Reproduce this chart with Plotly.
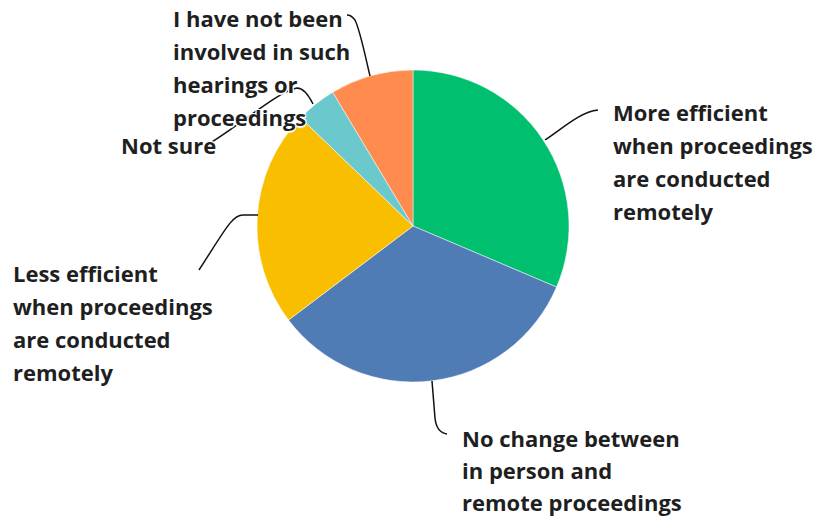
import plotly.graph_objects as go

W, H = 815, 517

labels = [
    "More efficient when proceedings are conducted remotely",
    "No change between in person and remote proceedings",
    "Less efficient when proceedings are conducted remotely",
    "Not sure",
    "I have not been involved in such hearings or proceedings",
]
values = [31.4, 33.3, 22.5, 4.2, 8.6]
colors = ["#00BF6F", "#507CB6", "#F9BE00", "#6BC8CD", "#FF8B4F"]

# wrapped label lines as drawn outside the pie
label_lines = [
    ["More efficient", "when proceedings", "are conducted", "remotely"],
    ["No change between", "in person and", "remote proceedings"],
    ["Less efficient", "when proceedings", "are conducted", "remotely"],
    ["Not sure"],
    ["I have not been", "involved in such", "hearings or", "proceedings"],
]


def px(x, y):
    return x / W, 1 - y / H


def path(cmds):
    out = []
    for c in cmds:
        if isinstance(c, str):
            out.append(c)
        else:
            a, b = px(*c)
            out.append(f"{a:.5f},{b:.5f}")
    return " ".join(out)


fig = go.Figure(go.Pie(
    labels=labels,
    values=values,
    marker=dict(colors=colors, line=dict(color="white", width=0.5)),
    sort=False,
    direction="clockwise",
    rotation=0,
    textinfo="none",
    hoverinfo="label+percent",
    domain=dict(x=[257 / W, 569 / W], y=[1 - 382 / H, 1 - 70 / H]),
))

# label placement (left edge px, first line centre px, line step px)
spots = [(611, 112, 33), (460, 438, 32), (11, 273, 33), (119, 145, 33), (171, 18, 33)]
halo = "white 1px 1px 0px, white -1px -1px 0px, white 1px -1px 0px, white -1px 1px 0px, white 0px 2px 1px"
for lines, (lx, ly, step) in zip(label_lines, spots):
    for i, t in enumerate(lines):
        ax, ay = px(lx, ly + i * step)
        fig.add_annotation(
            x=ax, y=ay, xref="paper", yref="paper", text=t, showarrow=False,
            xanchor="left", yanchor="middle",
            font=dict(family="Open Sans", size=22, weight=700, color="#1f1f1f", shadow=halo),
        )

connectors = [
    ["M", (545, 140), "C", (563, 128), (580, 112), (598, 110)],
    ["M", (432, 381), "L", (435, 418), "C", (436, 428), (440, 433), (447, 434)],
    ["M", (258, 215), "L", (243, 215), "C", (232, 215), (225, 230), (199, 270)],
    ["M", (313, 104), "C", (308, 94), (303, 88), (297, 88), "C", (280, 90), (240, 125), (210, 143)],
    ["M", (370, 76), "C", (365, 55), (360, 30), (355, 20), "C", (352, 16), (350, 15), (347, 15)],
]
for c in connectors:
    fig.add_shape(type="path", path=path(c), xref="paper", yref="paper",
                  line=dict(color="#111", width=1.5), layer="above")

fig.update_layout(
    width=W, height=H,
    margin=dict(l=0, r=0, t=0, b=0),
    showlegend=False,
    paper_bgcolor="white",
    plot_bgcolor="white",
)

fig.write_html("out.html", config={"displayModeBar": False},
               post_script="document.body.style.margin='0';")
